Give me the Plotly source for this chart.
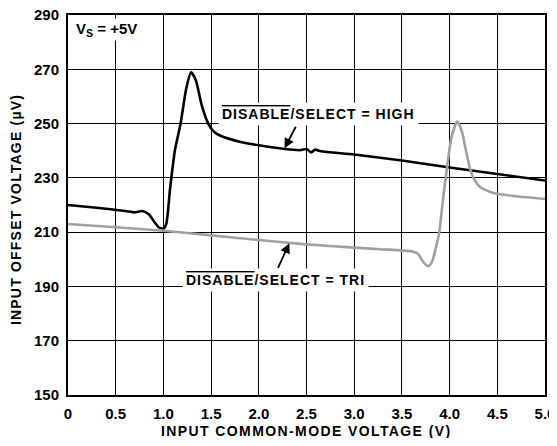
import plotly.graph_objects as go

# Data
high_x = [0.0, 0.3, 0.6, 0.7, 0.78, 0.85, 0.9, 0.95, 1.0, 1.03, 1.07, 1.12, 1.18, 1.24, 1.29,
          1.34, 1.40, 1.47, 1.53, 1.6, 1.8, 2.0, 2.43, 2.5, 2.55, 2.59, 2.65, 3.0, 3.5, 4.0, 4.5, 5.0]
high_y = [220.0, 219.0, 217.8, 217.3, 217.8, 216.5, 214.0, 211.8, 211.3, 213.0, 226.0, 240.0, 250.0,
          263.0, 268.9, 266.0, 257.0, 250.0, 247.0, 245.5, 243.3, 242.0, 240.2, 240.6, 239.4, 240.4,
          239.8, 238.6, 236.4, 233.8, 231.4, 229.0]

tri_x = [0.0, 0.5, 1.0, 1.5, 2.0, 2.5, 3.0, 3.27, 3.5, 3.62, 3.67, 3.71, 3.75, 3.78, 3.82, 3.85,
         3.89, 3.93, 3.97, 4.02, 4.08, 4.13, 4.17, 4.21, 4.25, 4.32, 4.46, 4.7, 5.0]
tri_y = [213.0, 211.8, 210.5, 208.8, 207.1, 205.5, 204.3, 203.7, 203.3, 202.8, 202.0, 199.7, 198.0,
         197.5, 199.5, 203.4, 209.6, 221.8, 233.0, 245.0, 250.7, 247.0, 240.3, 234.0, 230.0, 226.6,
         224.4, 223.2, 222.2]

x_ticks = [0, 0.5, 1.0, 1.5, 2.0, 2.5, 3.0, 3.5, 4.0, 4.5, 5.0]
x_tick_text = ["0", "0.5", "1.0", "1.5", "2.0", "2.5", "3.0", "3.5", "4.0", "4.5", "5.0"]
y_ticks = [150, 170, 190, 210, 230, 250, 270, 290]

label_high = "DISABLE/SELECT = HIGH"
label_tri = "DISABLE/SELECT = TRI"

FONT = "Arial, Liberation Sans, sans-serif"


def wide(txt, ls):
    return '<b><span style="letter-spacing:%spx">%s</span></b>' % (ls, txt)


def overlined(label, ls=1):
    head, tail = label.split("/", 1)
    return ('<b><span style="text-decoration:overline;letter-spacing:%spx">%s</span>'
            '<span style="letter-spacing:%spx">/%s</span></b>' % (ls, head, ls, tail))


fig = go.Figure()
fig.add_trace(go.Scatter(x=high_x, y=high_y, mode="lines",
                         line=dict(color="#000000", width=2.6, shape="spline", smoothing=0.6),
                         showlegend=False, hoverinfo="skip"))
fig.add_trace(go.Scatter(x=tri_x, y=tri_y, mode="lines",
                         line=dict(color="#a0a0a0", width=2.6, shape="spline", smoothing=0.6),
                         showlegend=False, hoverinfo="skip"))

fig.add_annotation(x=0.06, y=288.8, xref="x", yref="y", xanchor="left", yanchor="top",
                   text='<b>V<sub>S</sub> = +5V</b>', showarrow=False,
                   font=dict(family=FONT, size=15, color="black"), bgcolor="white", borderpad=1)

# Labels (text boxes)
fig.add_annotation(x=2.63, y=253.5, xref="x", yref="y", text=overlined(label_high), showarrow=False,
                   font=dict(family=FONT, size=14, color="black"), bgcolor="white", borderpad=3)
fig.add_annotation(x=2.17, y=192.2, xref="x", yref="y", text=overlined(label_tri), showarrow=False,
                   font=dict(family=FONT, size=14, color="black"), bgcolor="white", borderpad=3)

# Pointer arrows
fig.add_annotation(x=2.27, y=240.9, xref="x", yref="y", text="", showarrow=True,
                   arrowhead=2, arrowsize=1.1, arrowwidth=1.8, arrowcolor="black", ax=12, ay=-23)
fig.add_annotation(x=2.32, y=205.9, xref="x", yref="y", text="", showarrow=True,
                   arrowhead=2, arrowsize=1.1, arrowwidth=1.8, arrowcolor="black", ax=-12, ay=26)

# Axis titles as paper annotations for exact placement
fig.add_annotation(x=0.499, y=-0.094, xref="paper", yref="paper", xanchor="center", yanchor="middle",
                   text=wide("INPUT COMMON-MODE VOLTAGE (V)", 1.4), showarrow=False,
                   font=dict(family=FONT, size=14, color="black"))
fig.add_annotation(x=-0.110, y=0.488, xref="paper", yref="paper", xanchor="center", yanchor="middle",
                   text=wide("INPUT OFFSET VOLTAGE (µV)", 1.2), showarrow=False, textangle=-90,
                   font=dict(family=FONT, size=14, color="black"))

axis_common = dict(showgrid=True, gridcolor="black", gridwidth=1.3, showline=True, linecolor="black",
                   linewidth=2, mirror=True, ticks="", zeroline=False, automargin=False,
                   ticklabeloverflow="allow", ticklabelstandoff=4,
                   tickfont=dict(family=FONT, size=15, color="black"))

fig.update_xaxes(range=[0, 5], tickvals=x_ticks, ticktext=["<b>%s</b>" % t for t in x_tick_text],
                 **axis_common)
fig.update_yaxes(range=[150, 290], tickvals=y_ticks, ticktext=["<b>%d</b>" % v for v in y_ticks],
                 **axis_common)

# The page body adds an 8 px margin on every side, so the figure is sized to fit inside it
fig.update_layout(width=549, height=430, margin=dict(l=60, r=12, t=7, b=43, autoexpand=False),
                  plot_bgcolor="white", paper_bgcolor="white", showlegend=False)

fig.write_html("out.html")
